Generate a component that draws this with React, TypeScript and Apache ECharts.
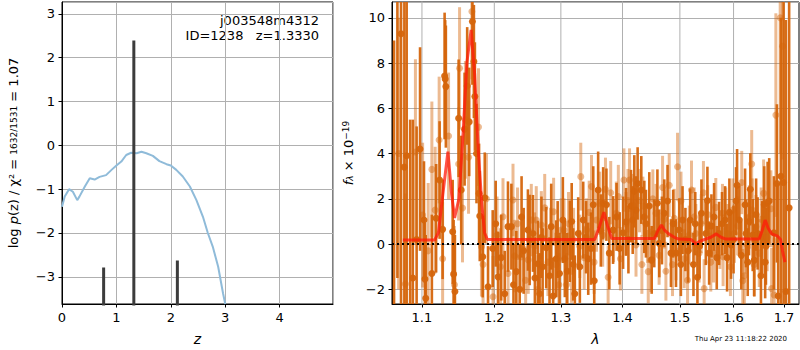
import React, { useEffect, useRef } from 'react';
import * as echarts from 'echarts';

// ---- Left panel: log p(z) ----
const pzZ = [0, 0.05, 0.13, 0.2, 0.28, 0.32, 0.42, 0.51, 0.6, 0.69, 0.81, 0.91, 1.0, 1.09, 1.18, 1.27, 1.37, 1.46, 1.55, 1.67, 1.79, 1.92, 2.0, 2.1, 2.22, 2.35, 2.47, 2.59, 2.68, 2.77, 2.87, 2.96, 3.0];
const pzLog = [-1.40, -1.17, -1.0, -1.06, -1.25, -1.17, -0.94, -0.75, -0.78, -0.72, -0.68, -0.56, -0.46, -0.37, -0.22, -0.17, -0.18, -0.145, -0.18, -0.24, -0.36, -0.43, -0.46, -0.56, -0.71, -0.94, -1.25, -1.63, -2.0, -2.31, -2.77, -3.38, -3.62];
const peakZ = [0.765, 1.32, 2.12];
const peakTop = [-2.79, 2.39, -2.63];

// ---- Right panel: spectrum ----
const lamTicks = [1.1, 1.2, 1.3, 1.4, 1.5, 1.6, 1.7];

const darkLam = [1.0637, 1.0680, 1.0727, 1.0770, 1.0800, 1.0845, 1.0880, 1.0930, 1.0975, 1.1027, 1.1040, 1.1050, 1.1132, 1.1189, 1.1236, 1.1277, 1.1304, 1.1312, 1.1321, 1.1414, 1.1427, 1.1445, 1.1496, 1.1532, 1.1579, 1.1615, 1.1643, 1.1688, 1.1709, 1.1723, 1.1746, 1.1782, 1.1792, 1.1834, 1.1863, 1.1910, 1.1977, 1.2054, 1.2151, 1.2199, 1.2249, 1.2322, 1.2372, 1.2431, 1.2495, 1.2521, 1.2571, 1.2647, 1.2672, 1.2718, 1.2773, 1.2824, 1.2850, 1.2928, 1.2979, 1.3031, 1.3062, 1.3141, 1.3194, 1.3220, 1.3274, 1.3354, 1.3435, 1.3516, 1.3532, 1.3596, 1.3678, 1.3732, 1.3842, 1.3952, 1.4010, 1.4060, 1.4144, 1.4173, 1.4200, 1.4257, 1.4320, 1.4372, 1.4458, 1.4545, 1.4633, 1.4721, 1.4779, 1.4840, 1.4930, 1.4988, 1.5018, 1.5048, 1.5187, 1.5247, 1.5320, 1.5394, 1.5475, 1.5505, 1.5537, 1.5630, 1.5724, 1.5838, 1.5876, 1.5952, 1.6048, 1.6068, 1.6112, 1.6223, 1.6242, 1.6275, 1.6326, 1.6373, 1.6404, 1.6470, 1.6536, 1.6601, 1.6635, 1.6669, 1.6701, 1.6795, 1.6856, 1.6882, 1.6937, 1.6992, 1.7039, 1.7106,
  1.2020, 1.2100, 1.2280, 1.2400, 1.2600, 1.2700, 1.2880, 1.2950, 1.3100, 1.3170, 1.3300, 1.3400, 1.3480, 1.3640, 1.3780, 1.3900, 1.4100, 1.4230, 1.4400, 1.4500, 1.4600, 1.4680, 1.4880, 1.5100, 1.5150, 1.5280, 1.5360, 1.5580, 1.5680, 1.5780, 1.5920, 1.6000, 1.6150, 1.6300, 1.6440, 1.6560, 1.6620];
const darkFlux = [-4.0, 12.5, 9.3, 3.4, 3.9, -3.5, -1.5, 0.2, 4.2, 1.06, -1.55, -2.4, -1.3, 1.14, 2.83, 0.65, 7.43, 7.3, 6.96, 0.54, -1.33, -2.1, 5.56, 2.39, 5.08, 6.99, 5.4, 9.84, 8.07, 6.52, 4.0, 2.24, 1.24, -0.56, 2.05, -1.89, -0.2, -1.45, -2.2, 0.77, 0.77, -1.22, -2.0, -0.3, 0.62, 0.18, 0.47, -0.87, -2.2, -1.0, -0.16, -1.4, 0.77, -0.65, -1.3, 1.06, -0.65, 0.12, -0.9, -2.2, 0.47, 1.06, -0.65, 1.74, -1.62, 2.39, 1.8, 1.74, 0.62, -0.19, 0.5, 0.98, 1.68, 1.06, 2.33, 2.68, 2.39, 1.2, 1.68, 0.47, 0.03, 1.36, 1.9, -0.4, -0.4, 0.62, -0.9, 1.06, 1.06, -0.9, -1.47, 1.36, 0.47, 1.92, -0.4, 1.2, 0.47, 1.06, -0.6, -0.04, 1.9, 2.6, 1.06, 1.74, 0.47, -0.8, 2.42, 0.4, -0.72, 0.47, -1.4, 1.74, -0.1, 1.84, 1.9, 0.5, 2.68, -2.3, 3.0, 2.72, -2.1, 1.6,
  0.9, -0.6, -1.8, 1.2, -1.5, 0.3, -2.3, 0.2, -1.2, 1.0, -1.0, 0.3, -0.2, 0.6, -0.4, 1.2, 0.2, 1.5, 0.9, -0.7, 1.8, 0.6, 0.9, 0.2, -0.3, 0.9, -0.1, 0.8, -0.6, 0.9, 1.4, 0.2, -0.5, 1.0, 1.3, 0.3, -0.8];
const darkErr = [13, 14, 14, 13, 12, 9, 7, 5, 4.5, 2.6, 2.5, 2.8, 2.6, 2.4, 2.6, 2.2, 2.8, 2.6, 2.7, 2.3, 2.4, 2.5, 2.6, 2.4, 2.5, 2.6, 2.4, 2.8, 2.5, 2.4, 2.2, 2.2, 2.0, 1.8, 2.0, 1.8, 1.7, 2.0, 1.9, 2.0, 1.9, 1.8, 2.0, 1.9, 1.8, 2.0, 1.7, 1.9, 1.8, 1.7, 1.8, 1.7, 1.9, 1.7, 1.8, 1.9, 1.7, 1.8, 1.6, 1.7, 1.6, 1.7, 1.6, 1.7, 1.6, 1.7, 1.6, 1.6, 1.5, 1.6, 1.6, 1.5, 1.6, 1.5, 1.6, 1.6, 1.5, 1.6, 1.5, 1.5, 1.5, 1.5, 1.6, 1.5, 1.5, 1.4, 1.4, 1.5, 1.4, 1.4, 1.5, 1.5, 1.4, 1.5, 1.4, 1.5, 1.4, 1.5, 1.5, 1.5, 1.5, 1.6, 1.5, 1.6, 1.5, 1.5, 1.6, 1.6, 1.6, 1.6, 1.6, 1.7, 1.7, 1.8, 1.9, 2.5, 3.5, 5, 7, 9, 12, 14,
  1.9, 1.9, 1.8, 1.8, 1.8, 1.8, 1.7, 1.7, 1.7, 1.7, 1.6, 1.6, 1.6, 1.6, 1.6, 1.5, 1.5, 1.5, 1.5, 1.5, 1.5, 1.5, 1.5, 1.4, 1.4, 1.4, 1.4, 1.4, 1.4, 1.4, 1.5, 1.5, 1.5, 1.5, 1.6, 1.6, 1.6];

const lightLam = [1.0696, 1.0783, 1.0914, 1.1009, 1.1083, 1.1132, 1.1176, 1.1230, 1.1277, 1.1358, 1.1438, 1.1496, 1.1509, 1.1550, 1.1590, 1.1634, 1.1681, 1.1774, 1.1816, 1.1839, 1.1887, 1.1982, 1.2089, 1.2126, 1.2273, 1.2298, 1.2396, 1.2461, 1.2546, 1.2596, 1.2621, 1.2698, 1.2799, 1.2887, 1.2969, 1.3005, 1.3050, 1.3089, 1.3168, 1.3299, 1.3315, 1.3407, 1.3488, 1.3569, 1.3622, 1.3716, 1.3760, 1.3803, 1.3896, 1.3965, 1.4024, 1.4092, 1.4119, 1.4229, 1.4290, 1.4348, 1.4429, 1.4440, 1.4487, 1.4574, 1.4691, 1.4750, 1.4809, 1.4868, 1.4899, 1.4958, 1.5078, 1.5139, 1.5211, 1.5291, 1.5351, 1.5431, 1.5444, 1.5568, 1.5662, 1.5788, 1.5800, 1.5890, 1.5985, 1.6016, 1.6158, 1.6178, 1.6209, 1.6306, 1.6353, 1.6365, 1.6437, 1.6502, 1.6589, 1.6735, 1.6749, 1.6801, 1.6835, 1.6923, 1.6971,
  1.2040, 1.2200, 1.2340, 1.2500, 1.2650, 1.2750, 1.2840, 1.2920, 1.3120, 1.3200, 1.3370, 1.3450, 1.3530, 1.3670, 1.3850, 1.3930, 1.4060, 1.4180, 1.4330, 1.4520, 1.4630, 1.4720, 1.4930, 1.5020, 1.5170, 1.5260, 1.5390, 1.5510, 1.5620, 1.5740, 1.5850, 1.5940, 1.6080, 1.6250, 1.6400, 1.6540, 1.6660];
const lightFlux = [4.0, -1.77, 4.07, 1.28, -0.3, 3.3, 1.5, 4.6, -0.65, 4.78, -1.8, 3.54, 7.77, 1.59, 5.49, 3.84, 10.28, 5.17, -0.12, -0.9, 2.0, -2.33, -1.0, 1.21, 1.95, -0.53, -0.56, -1.6, 1.06, -0.1, 1.06, 0.84, -0.8, 1.43, -1.8, 0.62, 0.62, -1.8, -1.2, -0.1, 2.98, 0.62, 2.54, 1.06, 1.8, 2.42, -1.47, 2.27, 1.36, -0.65, 2.83, 1.92, 2.83, -0.04, 1.92, 1.68, 0.47, -1.22, -0.72, 1.36, 2.5, -1.2, 2.6, -0.9, 1.14, 3.42, -0.65, -1.6, 2.39, 0.47, -0.4, 2.27, -1.97, -0.8, 1.62, 1.36, -0.56, 0.47, 1.5, 0.47, 2.72, -1.62, -1.4, 1.2, 3.54, 1.5, 0.77, -0.4, 2.24, 1.56, -1.97, -2.25, 5.7, 10.0, 8.74,
  0.4, -1.3, 0.9, -0.7, -2.0, 1.6, 0.1, -0.9, 0.9, 0.2, -0.6, 1.4, -0.8, 0.4, 0.6, 2.1, 0.9, 1.7, -0.9, 2.0, -0.5, 1.1, -0.3, 1.9, 0.4, 1.2, 0.9, 1.3, -0.4, 0.2, 1.2, -1.0, 0.8, 0.0, -0.9, 1.1, 0.3];
const lightErr = [6, 4, 4.1, 3.2, 3.0, 3.0, 2.8, 2.8, 2.5, 2.8, 2.6, 2.5, 2.7, 2.4, 2.6, 2.5, 3.0, 2.6, 2.2, 2.2, 2.0, 1.8, 1.7, 1.7, 1.6, 1.6, 1.6, 1.5, 1.6, 1.5, 1.5, 1.5, 1.5, 1.5, 1.4, 1.4, 1.4, 1.4, 1.4, 1.4, 1.5, 1.4, 1.4, 1.4, 1.4, 1.4, 1.4, 1.4, 1.4, 1.4, 1.4, 1.4, 1.4, 1.4, 1.4, 1.3, 1.3, 1.4, 1.4, 1.3, 1.4, 1.3, 1.4, 1.4, 1.3, 1.5, 1.3, 1.3, 1.3, 1.3, 1.3, 1.4, 1.3, 1.3, 1.3, 1.3, 1.3, 1.3, 1.4, 1.3, 1.4, 1.4, 1.4, 1.4, 1.5, 1.4, 1.4, 1.5, 1.5, 1.7, 1.8, 2.5, 4.5, 6, 5,
  1.7, 1.6, 1.6, 1.5, 1.5, 1.5, 1.5, 1.4, 1.4, 1.4, 1.4, 1.4, 1.4, 1.4, 1.4, 1.4, 1.4, 1.4, 1.3, 1.3, 1.3, 1.3, 1.3, 1.3, 1.3, 1.3, 1.3, 1.3, 1.3, 1.3, 1.3, 1.3, 1.3, 1.3, 1.4, 1.4, 1.5];

const modelLam = [1.075, 1.117, 1.122, 1.128, 1.1349, 1.140, 1.144, 1.150, 1.156, 1.161, 1.167, 1.172, 1.177, 1.182, 1.186, 1.190, 1.354, 1.362, 1.369, 1.375, 1.382, 1.455, 1.461, 1.467, 1.473, 1.480, 1.490, 1.498, 1.520, 1.524, 1.529, 1.536, 1.545, 1.557, 1.567, 1.576, 1.585, 1.650, 1.656, 1.662, 1.668, 1.675, 1.687, 1.693, 1.697, 1.702];
const modelFlux = [0.18, 0.18, 0.5, 2.2, 4.08, 2.2, 1.15, 2.0, 5.0, 8.0, 9.47, 7.5, 4.2, 1.8, 0.5, 0.2, 0.2, 0.8, 1.41, 0.8, 0.25, 0.25, 0.6, 0.84, 0.6, 0.45, 0.3, 0.22, 0.2, 0.12, 0.0, 0.12, 0.2, 0.3, 0.45, 0.3, 0.22, 0.22, 0.6, 1.06, 0.7, 0.45, 0.35, 0.2, -0.3, -0.8];

const FONT = 'DejaVu Sans';
const ORANGE = '#d5650c';
const GRIDC = '#b0b0b0';
const minus = (v: number) => (v < 0 ? '\u2212' + Math.abs(v) : String(v));

function errSeries(lam: number[], flux: number[], err: number[], opacity: number, lw: number, z: number) {
  return {
    type: 'custom',
    xAxisIndex: 1,
    yAxisIndex: 1,
    clip: true,
    z,
    silent: true,
    data: lam.map((l, i) => [Math.log(l), flux[i], flux[i] - err[i], flux[i] + err[i]]),
    encode: { x: 0, y: 1 },
    renderItem: (params: any, api: any) => {
      const cs = params.coordSys;
      const x = api.value(0);
      const p = api.coord([x, api.value(1)]);
      const lo = api.coord([x, api.value(2)]);
      const hi = api.coord([x, api.value(3)]);
      const top = cs.y;
      const bot = cs.y + cs.height;
      const y1 = Math.min(Math.max(hi[1], top), bot);
      const y2 = Math.min(Math.max(lo[1], top), bot);
      const children: any[] = [
        { type: 'line', shape: { x1: p[0], y1, x2: p[0], y2 }, style: { stroke: ORANGE, lineWidth: lw, opacity } },
      ];
      if (p[1] >= top && p[1] <= bot) {
        children.push({ type: 'circle', shape: { cx: p[0], cy: p[1], r: 3.5 }, style: { fill: ORANGE, opacity } });
      }
      return { type: 'group', children };
    },
  };
}

function buildOption() {
  const lnTicks = lamTicks.map((v) => Math.log(v));
  const axisCommon = {
    axisLine: { show: true, onZero: false, lineStyle: { color: '#000', width: 1 } },
    axisTick: { show: true, inside: false, length: 3.5, lineStyle: { color: '#000', width: 1 } },
    splitLine: { show: true, lineStyle: { color: GRIDC, width: 1 } },
  };
  const labelCommon = { fontSize: 13, color: '#000', fontFamily: FONT };

  return {
    animation: false,
    textStyle: { fontFamily: FONT },
    grid: [
      { left: 62, top: 2, width: 271, height: 302, show: true, borderColor: '#000', borderWidth: 1, backgroundColor: '#fff', containLabel: false, outerBoundsMode: 'none' },
      { left: 392, top: 2, width: 407, height: 302, show: true, borderColor: '#000', borderWidth: 1, backgroundColor: '#fff', containLabel: false, outerBoundsMode: 'none' },
    ],
    xAxis: [
      {
        gridIndex: 0, type: 'value', min: 0, max: 4.98,
        name: 'z', nameLocation: 'middle', nameGap: 28,
        nameTextStyle: { fontSize: 14, fontStyle: 'italic', color: '#000', fontFamily: FONT },
        ...axisCommon,
        axisLabel: { ...labelCommon, margin: 7, showMaxLabel: false, formatter: minus },
      },
      {
        gridIndex: 1, type: 'value', min: Math.log(1.0611), max: Math.log(1.7310),
        name: 'λ', nameLocation: 'middle', nameGap: 28,
        nameTextStyle: { fontSize: 14, fontStyle: 'italic', color: '#000', fontFamily: FONT },
        ...axisCommon,
        splitLine: { show: false },
        axisTick: { show: true, length: 3.5, lineStyle: { color: '#000' }, customValues: lnTicks },
        axisLabel: { ...labelCommon, margin: 7, customValues: lnTicks, formatter: (v: number) => Math.exp(v).toFixed(1) },
      },
    ],
    yAxis: [
      {
        gridIndex: 0, type: 'value', min: -3.62, max: 3.27,
        name: 'log {i|p}(z) / χ² = {f|1632/1531} = 1.07', nameLocation: 'middle', nameGap: 42,
        nameTextStyle: {
          fontSize: 13, color: '#000', fontFamily: FONT,
          rich: {
            i: { fontSize: 13, fontStyle: 'italic', fontFamily: FONT, color: '#000' },
            f: { fontSize: 9, fontFamily: FONT, color: '#000' },
          },
        },
        ...axisCommon,
        axisLabel: { ...labelCommon, margin: 7, showMinLabel: false, showMaxLabel: false, formatter: minus },
      },
      {
        gridIndex: 1, type: 'value', min: -2.65, max: 10.7, splitNumber: 7,
        name: '{i|f}{s|λ} × 10{u|−19}', nameLocation: 'middle', nameGap: 36,
        nameTextStyle: {
          fontSize: 13, color: '#000', fontFamily: FONT,
          rich: {
            i: { fontSize: 13, fontStyle: 'italic', fontFamily: FONT, color: '#000' },
            s: { fontSize: 9, fontStyle: 'italic', fontFamily: FONT, color: '#000', verticalAlign: 'bottom' },
            u: { fontSize: 9, fontFamily: FONT, color: '#000', verticalAlign: 'top' },
          },
        },
        ...axisCommon,
        axisLabel: { ...labelCommon, margin: 7, showMinLabel: false, showMaxLabel: false, formatter: minus },
      },
    ],
    graphic: [
      { type: 'text', x: 319, y: 20, style: { text: 'j003548m4312', align: 'right', verticalAlign: 'middle', fontSize: 13, fontFamily: FONT, fill: '#000' } },
      { type: 'text', x: 319, y: 35, style: { text: 'ID=1238\u00a0\u00a0\u00a0z=1.3330', align: 'right', verticalAlign: 'middle', fontSize: 13, fontFamily: FONT, fill: '#000' } },
      { type: 'text', x: 787, y: 339, style: { text: 'Thu Apr 23 11:18:22 2020', align: 'right', verticalAlign: 'middle', fontSize: 7, fontFamily: FONT, fill: '#000' } },
    ],
    series: [
      {
        type: 'line', xAxisIndex: 0, yAxisIndex: 0, z: 3,
        data: pzZ.map((z, i) => [z, pzLog[i]]),
        showSymbol: false, symbol: 'none', smooth: false,
        lineStyle: { color: '#8fbbd9', width: 2 },
        clip: true, silent: true,
      },
      ...peakZ.map((z, i) => ({
        type: 'line', xAxisIndex: 0, yAxisIndex: 0, z: 4,
        data: [[z, -5], [z, peakTop[i]]],
        showSymbol: false, symbol: 'none',
        lineStyle: { color: '#3c3c3c', width: 3 },
        clip: true, silent: true,
      })),
      ...lnTicks.map((v) => ({
        type: 'line', xAxisIndex: 1, yAxisIndex: 1, z: 1,
        data: [[v, -100], [v, 100]],
        showSymbol: false, symbol: 'none',
        lineStyle: { color: GRIDC, width: 1 },
        clip: true, silent: true,
      })),
      errSeries(darkLam, darkFlux, darkErr, 0.95, 2.6, 3),
      errSeries(lightLam, lightFlux, lightErr, 0.45, 3, 4),
      {
        type: 'line', xAxisIndex: 1, yAxisIndex: 1, z: 6,
        data: modelLam.map((l, i) => [Math.log(l), modelFlux[i]]),
        showSymbol: false, symbol: 'none', smooth: false,
        lineStyle: { color: '#ff1a0a', width: 3, opacity: 0.75 },
        clip: true, silent: true,
      },
      {
        type: 'line', xAxisIndex: 1, yAxisIndex: 1, z: 7,
        data: [[Math.log(1.0611), 0], [Math.log(1.7310), 0]],
        showSymbol: false, symbol: 'none',
        lineStyle: { color: '#000', width: 2, type: [2, 3] },
        clip: true, silent: true,
      },
    ],
  };
}

export default function App() {
  const ref = useRef<HTMLDivElement>(null);
  useEffect(() => {
    document.body.style.margin = '0';
    const chart = echarts.init(ref.current as HTMLDivElement, null, { renderer: 'svg' });
    chart.setOption(buildOption() as any);
    return () => chart.dispose();
  }, []);
  return <div ref={ref} style={{ width: 800, height: 350 }} />;
}
